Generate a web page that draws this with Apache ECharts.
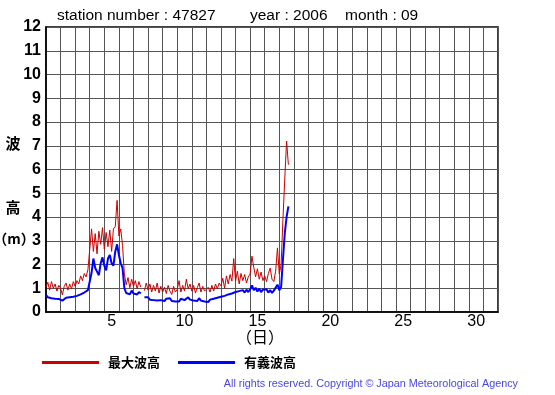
<!DOCTYPE html>
<html>
<head>
<meta charset="utf-8">
<script src="https://cdn.jsdelivr.net/npm/echarts@6/dist/echarts.min.js"></script>
<style>
html,body{margin:0;padding:0;background:#fff;}
#c{width:555px;height:395px;}
</style>
</head>
<body>
<div id="c"></div>
<script>
// Time step of the readings (hours), first reading at Sep 1 00h
var stepHours = 3;
// Day categories along the x axis and labels shown
var dayCategories = [];
for (var d = 1; d <= 31; d++) dayCategories.push(String(d));
var xTickLabels = ['5','10','15','20','25','30'];
var yMin = 0, yMax = 12;

// 最大波高 (m), one value every 3 hours, null = missing
var maxWave = [
  1.05,1.25,0.92,1.28,1.00,1.18,0.88,1.12,
  1.00,0.72,1.08,1.22,0.92,1.18,0.98,1.28,
  1.08,1.32,1.18,1.52,1.32,1.62,1.48,1.78,
  1.80,3.50,2.55,3.30,2.45,3.40,2.85,3.55,
  2.65,3.35,2.75,3.45,2.55,3.50,3.60,4.70,
  3.20,3.50,2.80,1.60,1.15,1.45,1.02,1.38,
  1.08,1.32,0.98,1.28,1.05,null,0.90,1.22,
  0.92,1.18,0.84,1.12,0.88,1.22,0.80,1.08,
  0.84,1.04,0.78,1.12,0.88,0.74,1.08,0.84,
  0.95,1.32,0.84,1.12,0.88,1.38,0.98,1.18,
  0.88,1.12,0.80,1.02,1.22,0.84,1.08,0.88,
  0.80,1.04,0.84,1.12,0.88,1.18,0.98,1.22,
  1.10,1.42,1.00,1.52,1.18,1.58,1.30,2.25,
  1.30,1.72,1.18,1.62,1.32,1.58,1.22,1.48,
  1.60,2.35,1.88,1.48,1.82,1.38,1.68,1.32,
  1.52,1.28,1.62,1.85,1.38,1.28,1.72,2.70,
  1.60,2.00,3.90,5.60,7.20,6.20
];
// 有義波高 (m)
var sigWave = [
  0.72,0.62,0.66,0.58,0.64,0.56,0.62,0.55,
  0.58,0.48,0.56,0.60,0.52,0.62,0.56,0.64,
  0.58,0.68,0.64,0.74,0.68,0.82,0.76,0.92,
  0.98,1.65,2.25,1.85,1.70,1.55,2.05,2.30,
  1.95,1.75,2.25,2.40,2.05,1.95,2.55,2.85,
  2.40,2.05,1.85,1.00,0.80,0.88,0.74,0.90,
  0.78,0.86,0.74,0.84,0.78,null,0.62,0.56,
  0.62,0.52,0.60,0.50,0.58,0.48,0.56,0.50,
  0.54,0.46,0.56,0.48,0.58,0.46,0.52,0.44,
  0.50,0.44,0.56,0.60,0.50,0.58,0.62,0.52,
  0.56,0.48,0.54,0.46,0.58,0.48,0.54,0.44,
  0.50,0.42,0.52,0.46,0.56,0.50,0.60,0.54,
  0.64,0.58,0.68,0.62,0.74,0.66,0.78,0.72,
  0.84,0.76,0.88,0.80,0.92,0.82,0.94,0.84,
  0.96,1.12,0.92,1.02,0.86,0.98,0.84,0.94,
  0.88,0.96,0.82,0.92,0.80,0.90,0.84,1.15,
  0.92,1.05,2.20,3.30,4.00,4.45
];

function toPairs(vals) {
  return vals.map(function (v, i) { return [i * stepHours / 24, v]; });
}

var chart = echarts.init(document.getElementById('c'), null, {renderer: 'canvas'});
var FONT = 'Liberation Sans, Arial, Helvetica, sans-serif';
chart.setOption({
  animation: false,
  backgroundColor: '#fff',
  grid: {left: 46, right: 57, top: 27, bottom: 83, show: true, borderColor: '#000', borderWidth: 1.5},
  xAxis: [{
    type: 'value', min: 0, max: 31, interval: 1,
    axisLine: {show: true, lineStyle: {color: '#000', width: 1.5}},
    axisTick: {show: false}, axisLabel: {show: false},
    splitLine: {show: true, lineStyle: {color: '#555', width: 1}}
  }, {
    type: 'category', data: dayCategories, boundaryGap: true, position: 'bottom',
    axisLine: {show: false}, axisTick: {show: false}, splitLine: {show: false},
    axisLabel: {
      interval: function (i, v) { return xTickLabels.indexOf(v) >= 0; },
      color: '#000', fontSize: 16, fontFamily: FONT, margin: 2
    }
  }],
  yAxis: {
    type: 'value', min: yMin, max: yMax, interval: 1,
    axisLine: {show: true, lineStyle: {color: '#000', width: 1.5}},
    axisTick: {show: false},
    axisLabel: {color: '#000', fontSize: 16, fontWeight: 'bold', fontFamily: FONT, margin: 5},
    splitLine: {show: true, lineStyle: {color: '#555', width: 1}}
  },
  legend: {
    left: 42, top: 356, padding: 0, icon: 'rect', itemWidth: 57, itemHeight: 3, itemGap: 18,
    textStyle: {color: '#000', fontSize: 13, fontWeight: 'bold', fontFamily: 'Noto Sans CJK JP', padding: [0,0,0,4]},
    data: ['最大波高', '有義波高']
  },
  series: [{
    name: '有義波高', type: 'line', xAxisIndex: 0, showSymbol: false, symbol: 'none',
    data: toPairs(sigWave), connectNulls: false,
    lineStyle: {color: '#0000ff', width: 2}, itemStyle: {color: '#0000ff'}
  }, {
    name: '最大波高', type: 'line', xAxisIndex: 0, showSymbol: false, symbol: 'none',
    data: toPairs(maxWave), connectNulls: false,
    lineStyle: {color: '#cc0000', width: 1}, itemStyle: {color: '#cc0000'}
  }],
  graphic: [
    {type: 'text', left: 57, top: 8, style: {text: 'station number : 47827', font: '15.5px ' + FONT, fill: '#000'}},
    {type: 'text', left: 250, top: 8, style: {text: 'year : 2006', font: '15.5px ' + FONT, fill: '#000'}},
    {type: 'text', left: 345, top: 8, style: {text: 'month : 09', font: '15.5px ' + FONT, fill: '#000'}},
    {type: 'text', x: 13, y: 143, style: {text: '波', font: 'bold 15px Noto Sans CJK JP', fill: '#000', align: 'center', verticalAlign: 'middle'}},
    {type: 'text', x: 13, y: 207, style: {text: '高', font: 'bold 15px Noto Sans CJK JP', fill: '#000', align: 'center', verticalAlign: 'middle'}},
    {type: 'text', x: 14, y: 239, style: {text: '（m）', font: 'bold 14px Noto Sans CJK JP', fill: '#000', align: 'center', verticalAlign: 'middle'}},
    {type: 'text', x: 260, y: 337, style: {text: '（日）', font: '16px Noto Sans CJK JP', fill: '#000', align: 'center', verticalAlign: 'middle'}},
    {type: 'text', x: 518, y: 384, style: {text: 'All rights reserved. Copyright © Japan Meteorological Agency', font: '10.8px ' + FONT, fill: '#4848e0', align: 'right', verticalAlign: 'middle'}}
  ]
});
</script>
</body>
</html>
